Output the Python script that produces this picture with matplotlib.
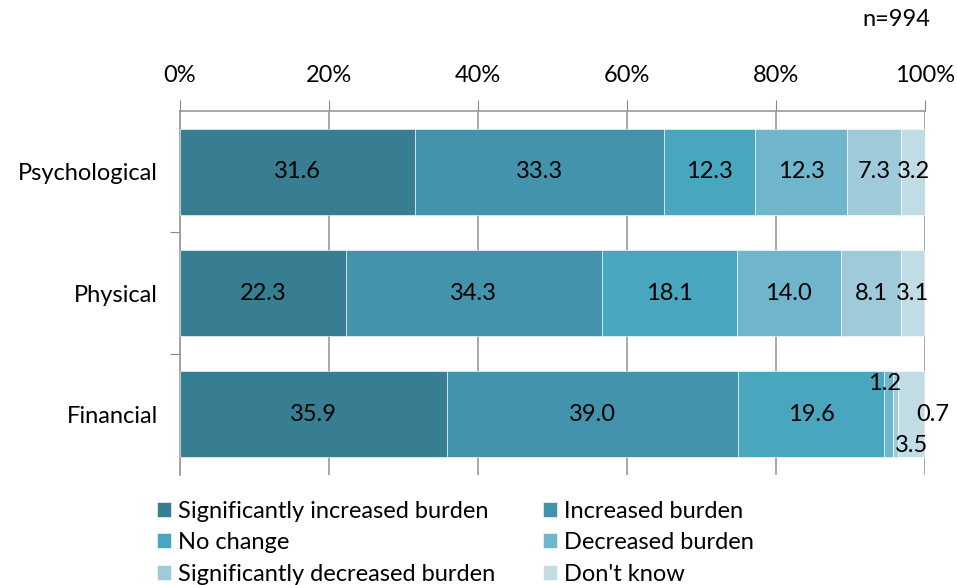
import matplotlib.pyplot as plt
import numpy as np

plt.rcParams['font.family'] = ['Lato', 'DejaVu Sans']

categories = ["Psychological", "Physical", "Financial"]
series = ["Significantly increased burden", "Increased burden", "No change",
          "Decreased burden", "Significantly decreased burden", "Don't know"]
values = [
    [31.6, 22.3, 35.9],
    [33.3, 34.3, 39.0],
    [12.3, 18.1, 19.6],
    [12.3, 14.0, 1.2],
    [7.3, 8.1, 0.7],
    [3.2, 3.1, 3.5],
]
colors = ["#377E93", "#4393AD", "#48A7BF", "#6FB5CC", "#9FCAD9", "#C2DCE5"]

fs = 17
fig = plt.figure(figsize=(9.57, 5.85), dpi=100)
ax = fig.add_axes([180/957, 1-475/585, 745/957, 364/585])

y = np.arange(len(categories))
left = np.zeros(len(categories))
for i, (name, vals) in enumerate(zip(series, values)):
    vals = np.array(vals)
    ax.barh(y, vals, left=left, height=0.71, color=colors[i], label=name,
            edgecolor='white', linewidth=0.4, zorder=3)
    for j, v in enumerate(vals):
        cx = left[j] + v/2
        # small financial segments get their labels moved off the bar
        if j == 2 and i == 3:
            ax.text(cx - 0.6, j - 0.25, f"{v:.1f}", ha='center', va='center', fontsize=fs, zorder=4)
        elif j == 2 and i == 4:
            ax.text(101.0, j, f"{v:.1f}", ha='center', va='center', fontsize=fs, zorder=4, clip_on=False)
        elif j == 2 and i == 5:
            ax.text(cx, j + 0.26, f"{v:.1f}", ha='center', va='center', fontsize=fs, zorder=4)
        else:
            ax.text(cx, j, f"{v:.1f}", ha='center', va='center', fontsize=fs, zorder=4)
    left += vals

ax.set_xlim(0, 100)
ax.set_ylim(2.5, -0.5)
ax.xaxis.tick_top()
ax.set_xticks(np.arange(0, 101, 20))
ax.set_xticklabels([f"{t}%" for t in range(0, 101, 20)], fontsize=fs)
ax.tick_params(axis='x', length=8, color='#888888', pad=10, direction='out')
ax.grid(axis='x', color='#999999', linewidth=1.2, zorder=0)
ax.set_yticks([0.5, 1.5], minor=False)
ax.set_yticklabels([])
ax.set_yticks(y, minor=True)
ax.set_yticklabels(categories, minor=True, fontsize=fs)
ax.tick_params(axis='y', which='major', length=7, color='#888888')
ax.tick_params(axis='y', which='minor', length=0, pad=16)
for s in ['right', 'bottom']:
    ax.spines[s].set_visible(False)
ax.spines['top'].set_color('#999999')
ax.spines['left'].set_color('#999999')
ax.spines['top'].set_linewidth(1.2)
ax.spines['left'].set_linewidth(1.2)

fig.text(930/957, 1-19/585, "n=994", ha='right', va='center', fontsize=fs)

handles, labels = ax.get_legend_handles_labels()
order = [0, 2, 4, 1, 3, 5]
fig.legend([handles[k] for k in order], [labels[k] for k in order], ncol=2,
           loc='lower left', bbox_to_anchor=(136/957, -0.036), frameon=False,
           fontsize=fs, handlelength=0.6, handleheight=0.6, handletextpad=0.3,
           columnspacing=2.0, labelspacing=0.45)

fig.savefig("out.png", dpi=100)
